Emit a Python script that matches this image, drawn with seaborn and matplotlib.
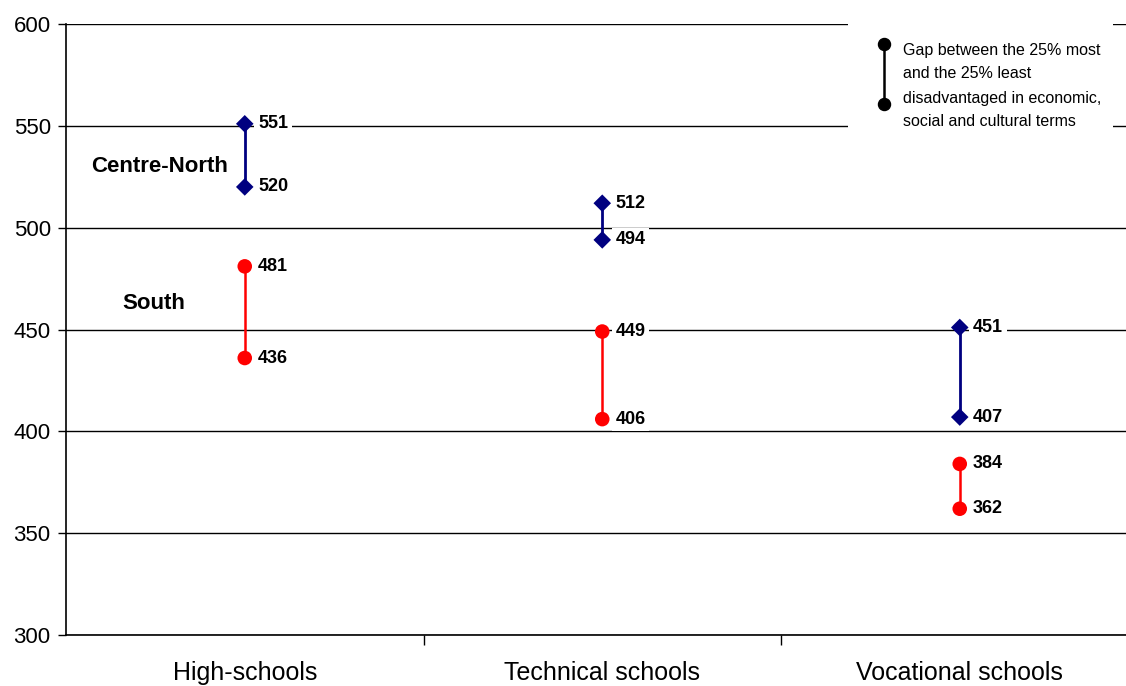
import matplotlib
matplotlib.use("Agg")
import matplotlib.pyplot as plt
import seaborn as sns
import pandas as pd
from matplotlib.ticker import FixedLocator

categories = ["High-schools", "Technical schools", "Vocational schools"]
north_high = [551, 512, 451]
north_low = [520, 494, 407]
south_high = [481, 449, 384]
south_low = [436, 406, 362]
y_ticks = [300, 350, 400, 450, 500, 550, 600]

NAVY = "#000080"
RED = "#FF0000"

sns.set_style("white")
plt.rcParams["font.family"] = ["Liberation Sans", "DejaVu Sans"]
plt.rcParams["text.color"] = "black"
plt.rcParams["xtick.color"] = "black"
plt.rcParams["ytick.color"] = "black"

rows = []
for i, cat in enumerate(categories):
    for region, hi, lo in (("Centre-North", north_high, north_low), ("South", south_high, south_low)):
        rows.append({"x": i, "score": hi[i], "region": region, "cat": cat})
        rows.append({"x": i, "score": lo[i], "region": region, "cat": cat})
df = pd.DataFrame(rows)

fig = plt.figure(figsize=(11.26, 6.86), dpi=100)
ax = fig.add_axes([66 / 1126, 51 / 686, 1060 / 1126, 611 / 686])

ax.set_ylim(300, 600)
ax.set_xlim(-0.5, (1126 - 66) / 357.5 - 0.5)
ax.set_yticks(y_ticks)
ax.yaxis.grid(True, color="black", linewidth=1.0)
ax.set_axisbelow(True)

# gap segments between the two quartile groups
for region, color, lw in (("Centre-North", NAVY, 2.0), ("South", RED, 1.8)):
    sub = df[df.region == region]
    for cat, g in sub.groupby("cat"):
        ax.vlines(g.x.iloc[0], g.score.min(), g.score.max(), color=color, lw=lw, zorder=3)

north = df[df.region == "Centre-North"]
south = df[df.region == "South"]
sns.scatterplot(data=north, x="x", y="score", marker="D", color=NAVY,
                s=80, edgecolor="none", legend=False, zorder=4, ax=ax)
sns.scatterplot(data=south, x="x", y="score", marker="o", color=RED,
                s=110, edgecolor="none", legend=False, zorder=4, ax=ax)

for _, r in df.iterrows():
    ax.annotate(f"{r.score}", (r.x, r.score), xytext=(9.5, 0), textcoords="offset points",
                ha="left", va="center", fontsize=13, fontweight="bold", zorder=5,
                bbox=dict(boxstyle="square,pad=0.2", fc="white", ec="none"))

ax.text(-0.238, 530, "Centre-North", ha="center", va="center", fontsize=16, fontweight="bold")
ax.text(-0.255, 463, "South", ha="center", va="center", fontsize=16, fontweight="bold")

# axes styling
for side in ("top", "right"):
    ax.spines[side].set_visible(False)
for side in ("left", "bottom"):
    ax.spines[side].set_color("black")
    ax.spines[side].set_linewidth(1.2)

ax.set_xticks([0, 1, 2])
ax.set_xticklabels(categories, fontsize=18)
ax.tick_params(axis="x", which="major", length=0, pad=19)
ax.xaxis.set_minor_locator(FixedLocator([0.5, 1.5]))
ax.tick_params(axis="x", which="minor", length=7, width=1, color="black", direction="out", bottom=True)
ax.tick_params(axis="y", length=6, width=1, color="black", direction="out", labelsize=16, pad=5, left=True)
ax.set_xlabel("")
ax.set_ylabel("")

# explanatory key in the upper right
key_ax = fig.add_axes([848 / 1126, (686 - 135) / 686, 265 / 1126, 115 / 686])
key_ax.set_xlim(848, 1113)
key_ax.set_ylim(135, 20)
key_ax.axis("off")
key_ax.add_patch(plt.Rectangle((848, 20), 265, 115, fc="white", ec="none", zorder=0))
key_ax.plot([884, 884], [44, 104], color="black", lw=1.8, zorder=2)
key_ax.scatter([884, 884], [44, 104], s=75, color="black", zorder=3)
key_lines = ["Gap between the 25% most", "and the 25% least",
             "disadvantaged in economic,", "social and cultural terms"]
for k, line in enumerate(key_lines):
    key_ax.text(903, 50 + 24 * k, line, ha="left", va="center", fontsize=11.5,
                family=["Liberation Sans Narrow", "Liberation Sans", "DejaVu Sans"], zorder=3)

fig.savefig("out.png", dpi=100)
